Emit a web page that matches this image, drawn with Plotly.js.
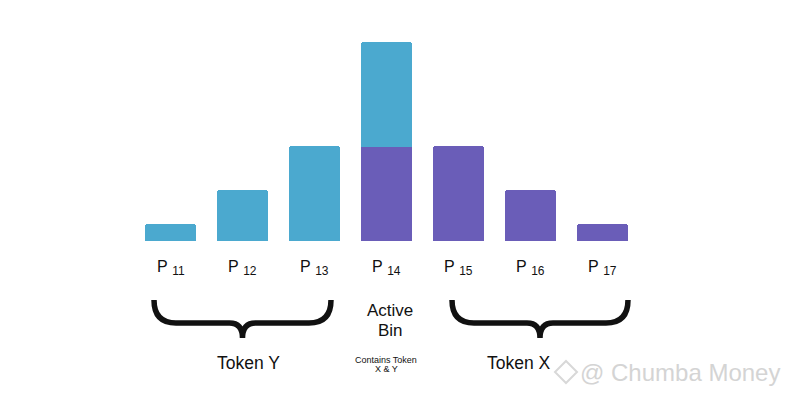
<!DOCTYPE html>
<html>
<head>
<meta charset="utf-8">
<script src="https://cdn.plot.ly/plotly-3.0.1.min.js"></script>
<style>html,body{margin:0;padding:0;background:#fff;}#chart{width:786px;height:398px;}</style>
</head>
<body>
<div id="chart"></div>
<script>
// ---- data ----
const categories = ['P11', 'P12', 'P13', 'P14', 'P15', 'P16', 'P17'];
const tickSubs = ['11', '12', '13', '14', '15', '16', '17'];
const tokenX = [null, null, null, 4.95, 5.0, 2.7, 0.9];   // purple
const tokenY = [0.9, 2.7, 5.0, 5.55, null, null, null];   // blue

// ---- helpers (figure pixel -> paper) ----
const W = 786, H = 398;
const PX = x => x / W;
const PY = y => 1 - y / H;

function brace(left, cx, right) {
  const top = 300, mid = 323, tip = 338, r = 22, k = 13;
  const p = (x, y) => PX(x).toFixed(5) + ',' + PY(y).toFixed(5);
  return 'M' + p(left, top) +
    ' Q' + p(left, mid) + ' ' + p(left + r, mid) +
    ' L' + p(cx - k, mid) +
    ' Q' + p(cx, mid) + ' ' + p(cx, tip) +
    ' Q' + p(cx, mid) + ' ' + p(cx + k, mid) +
    ' L' + p(right - r, mid) +
    ' Q' + p(right, mid) + ' ' + p(right, top);
}

const FONT = 'Liberation Sans, Arial, sans-serif';
const BLUE = '#4BA9CF', PURPLE = '#6A5DB8';

const traces = [
  {type: 'bar', x: categories, y: tokenX, name: 'Token X',
   marker: {color: PURPLE, cornerradius: 3}, hoverinfo: 'skip'},
  {type: 'bar', x: categories, y: tokenY, name: 'Token Y',
   marker: {color: BLUE, cornerradius: 3}, hoverinfo: 'skip'}
];

const annotations = categories.map((c, i) => ({
  x: c, xref: 'x', y: PY(268), yref: 'paper',
  text: 'P&nbsp;<sub><span style="font-size:12px">' + tickSubs[i] + '</span></sub>',
  showarrow: false, xanchor: 'center', yanchor: 'middle',
  font: {family: FONT, size: 16, color: '#111'}
}));

annotations.push(
  {x: PX(390), y: PY(310), xref: 'paper', yref: 'paper', text: 'Active', showarrow: false,
   font: {family: FONT, size: 17, color: '#111'}, xanchor: 'center', yanchor: 'middle'},
  {x: PX(390), y: PY(330), xref: 'paper', yref: 'paper', text: 'Bin', showarrow: false,
   font: {family: FONT, size: 17, color: '#111'}, xanchor: 'center', yanchor: 'middle'},
  {x: PX(386), y: PY(360), xref: 'paper', yref: 'paper', text: 'Contains Token', showarrow: false,
   font: {family: FONT, size: 9, color: '#111'}, xanchor: 'center', yanchor: 'middle'},
  {x: PX(386), y: PY(369), xref: 'paper', yref: 'paper', text: 'X &amp; Y', showarrow: false,
   font: {family: FONT, size: 9, color: '#111'}, xanchor: 'center', yanchor: 'middle'},
  {x: PX(249), y: PY(363), xref: 'paper', yref: 'paper', text: 'Token Y', showarrow: false,
   font: {family: FONT, size: 17.5, color: '#111'}, xanchor: 'center', yanchor: 'middle'},
  {x: PX(519), y: PY(363), xref: 'paper', yref: 'paper', text: 'Token X', showarrow: false,
   font: {family: FONT, size: 17.5, color: '#111'}, xanchor: 'center', yanchor: 'middle'},
  {x: PX(578), y: PY(372), xref: 'paper', yref: 'paper', text: '@ Chumba Money', showarrow: false,
   font: {family: FONT, size: 24, color: '#d4d4d4'}, xanchor: 'left', yanchor: 'middle'}
);

const shapes = [
  {type: 'path', xref: 'paper', yref: 'paper', path: brace(154, 242.5, 331),
   line: {color: '#111', width: 5.5}},
  {type: 'path', xref: 'paper', yref: 'paper', path: brace(452, 540, 628),
   line: {color: '#111', width: 5.5}},
  // watermark logo (diamond outline)
  {type: 'path', xref: 'paper', yref: 'paper',
   path: 'M' + PX(566) + ',' + PY(361) + ' L' + PX(577) + ',' + PY(372) + ' L' + PX(566) + ',' + PY(383) +
         ' L' + PX(555) + ',' + PY(372) + ' Z',
   line: {color: '#d8d8d8', width: 2}}
];

const layout = {
  width: W, height: H,
  margin: {l: 0, r: 0, t: 0, b: 0, pad: 0},
  paper_bgcolor: '#ffffff', plot_bgcolor: '#ffffff',
  showlegend: false,
  barmode: 'stack', bargap: 0.29,
  xaxis: {type: 'category', range: [-170.5 / 72, (W - 170.5) / 72], visible: false, fixedrange: true},
  yaxis: {range: [-(H - 241) / 19, 241 / 19], visible: false, fixedrange: true},
  annotations: annotations,
  shapes: shapes
};

Plotly.newPlot('chart', traces, layout, {displayModeBar: false, staticPlot: true});
</script>
</body>
</html>
